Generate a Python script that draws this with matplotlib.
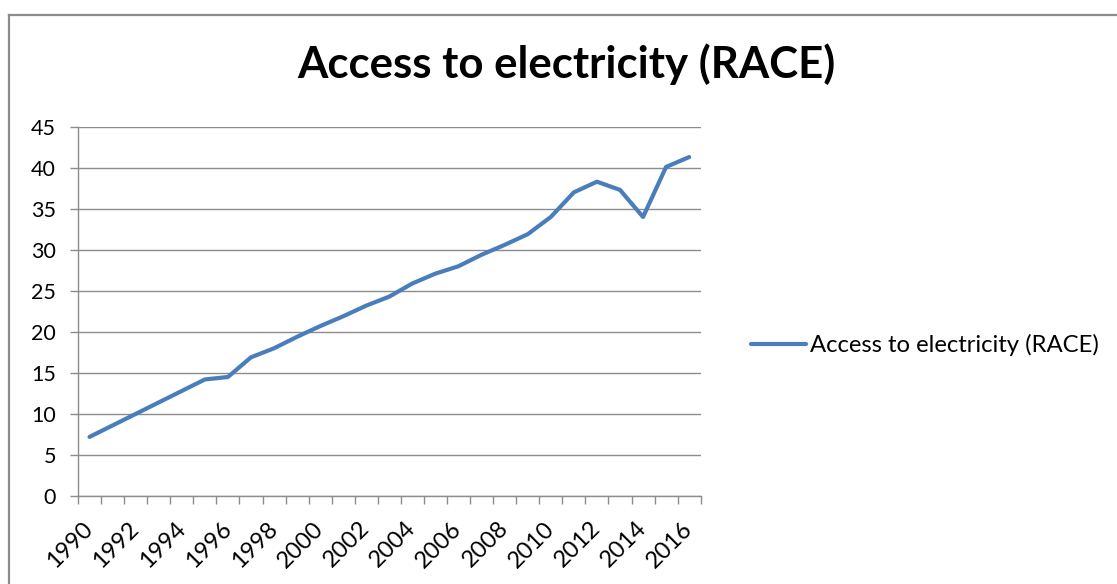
import matplotlib
matplotlib.use("Agg")
import matplotlib.pyplot as plt
import matplotlib.transforms as mtransforms
from matplotlib.lines import Line2D
import numpy as np

years = list(range(1990, 2017))
values = [7.2, 8.6, 10.0, 11.4, 12.8, 14.2, 14.5, 16.9, 18.0, 19.4,
          20.7, 21.9, 23.2, 24.3, 25.9, 27.1, 28.0, 29.4, 30.6, 31.9,
          34.0, 37.0, 38.3, 37.3, 34.0, 40.1, 41.3]
tick_labels = [str(y) for y in years[::2]]
series_name = "Access to electricity (RACE)"
title = "Access to electricity (RACE)"

plt.rcParams['font.family'] = ['Lato', 'DejaVu Sans']

W, H = 1117, 584
fig = plt.figure(figsize=(W / 100, H / 100), dpi=100)
fig.patch.set_facecolor('white')

ax = fig.add_axes([78 / W, 88 / H, 622.7 / W, 369.3 / H])
x = np.arange(len(years))
ax.plot(x, values, color='#4a7ebb', lw=3.0, solid_joinstyle='round',
        solid_capstyle='round', label=series_name, zorder=3)

ax.set_xlim(-0.5, len(years) - 0.5)
ax.set_ylim(0, 45)
ax.set_yticks(np.arange(0, 46, 5))
ax.yaxis.grid(True, color='#8c8c8c', lw=1.0)
ax.set_axisbelow(True)

# x ticks: marks at category boundaries, labels at every other category center
ax.set_xticks(np.arange(-0.5, len(years), 1.0), minor=True)
ax.set_xticks(x[::2])
ax.set_xticklabels(tick_labels, rotation=45, ha='right', va='center',
                   rotation_mode='anchor', fontsize=17)
offset = mtransforms.ScaledTranslation(4 / 100, 0, fig.dpi_scale_trans)
for lab in ax.get_xticklabels():
    lab.set_transform(lab.get_transform() + offset)
ax.tick_params(axis='x', which='major', length=0, pad=21)
ax.tick_params(axis='x', which='minor', length=5.8, color='#8c8c8c', width=1)
ax.tick_params(axis='y', length=5.8, color='#8c8c8c', width=1, labelsize=15.5, pad=10)

for s in ['top', 'right']:
    ax.spines[s].set_visible(False)
for s in ['left', 'bottom']:
    ax.spines[s].set_color('#8c8c8c')
    ax.spines[s].set_linewidth(1.0)

fig.text(566.5 / W, 1 - 78.3 / H, title, ha='center', va='baseline',
         fontsize=31.5, fontweight='bold', color='black')

ax.legend(loc='center left', bbox_to_anchor=(751 / W, 1 - 345 / H),
          bbox_transform=fig.transFigure, frameon=False, fontsize=17.2,
          handlelength=2.3, handletextpad=0.17, borderaxespad=0, borderpad=0)

# chart area border (left and top visible)
fig.add_artist(Line2D([9 / W, 9 / W], [0, 1 - 15 / H], transform=fig.transFigure,
                      color='#8c8c8c', lw=1.6))
fig.add_artist(Line2D([9 / W, 1], [1 - 15 / H, 1 - 15 / H], transform=fig.transFigure,
                      color='#8c8c8c', lw=1.6))

fig.savefig('out.png', dpi=100, facecolor='white')
